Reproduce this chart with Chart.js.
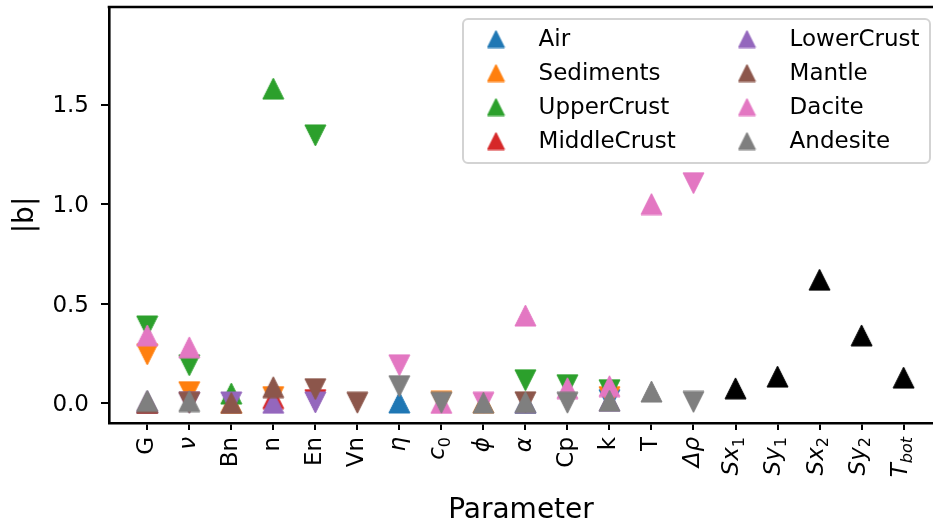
<!DOCTYPE html>
<html>
<head>
<meta charset="utf-8">
<script src="https://cdn.jsdelivr.net/npm/chart.js@4.4.0/dist/chart.umd.min.js"></script>
<style>
  html, body { margin: 0; padding: 0; background: #fff; }
</style>
</head>
<body>
<canvas id="myChart" width="933" height="528"></canvas>
<script>
// parametros del eje x ($...$ = texto matematico en cursiva, _ = subindice)
var parametros = ['G', '$ν$', 'Bn', 'n', 'En', 'Vn', '$η$', '$c_0$', '$ϕ$', '$α$', 'Cp', 'k', 'T', '$Δρ$',
                  '$Sx_1$', '$Sy_1$', '$Sx_2$', '$Sy_2$', '$T_{bot}$'];
var yTicks = [0.0, 0.5, 1.0, 1.5];

// b con signo por material (signo -> triangulo arriba / abajo), null = sin punto
var air         = [0.002, null, null, null, null, null, 0.003, null, null, 0.002, null, -0.015, null, null, null, null, null, null, null];
var sediments   = [-0.245, -0.055, 0.002, -0.03, null, null, null, -0.006, 0.003, null, null, -0.03, null, null, null, null, null, null, null];
var upperCrust  = [-0.385, -0.19, 0.048, 1.58, -1.345, null, null, null, null, -0.115, -0.09, -0.065, null, null, null, null, null, null, null];
var middleCrust = [0.001, null, null, 0.025, -0.015, null, null, null, null, null, null, null, null, null, null, null, null, null, null];
var lowerCrust  = [0.01, -0.002, -0.003, 0.002, -0.003, null, null, null, null, 0.002, null, 0.012, null, null, null, null, null, null, null];
var mantle      = [0.004, -0.002, 0.001, 0.08, -0.07, -0.002, null, null, null, -0.004, null, null, null, null, null, null, null, null, null];
var dacite      = [0.34, 0.28, null, null, null, null, -0.19, 0.001, -0.002, 0.44, 0.075, 0.085, 1.0, -1.105, null, null, null, null, null];
var andesite    = [0.012, 0.01, null, null, null, null, -0.085, -0.002, 0.002, 0.005, -0.002, 0.012, 0.058, -0.006, null, null, null, null, null];
var contorno    = [null, null, null, null, null, null, null, null, null, null, null, null, null, null, 0.074, 0.133, 0.62, 0.34, 0.128];

var materiales = ['Air', 'Sediments', 'UpperCrust', 'MiddleCrust', 'LowerCrust', 'Mantle', 'Dacite', 'Andesite'];
var colores = ['#1f77b4', '#ff7f0e', '#2ca02c', '#d62728', '#9467bd', '#8c564b', '#e377c2', '#7f7f7f'];
var series = [air, sediments, upperCrust, middleCrust, lowerCrust, mantle, dacite, andesite];

Chart.defaults.font.family = '"DejaVu Sans"';
Chart.defaults.color = '#000';

// triangulo tipo matplotlib (ancho = alto), centrado en el punto
function triangulo(color, arriba, size) {
	var c = document.createElement('canvas');
	c.width = size + 2; c.height = size + 2;
	var g = c.getContext('2d');
	var h = size / 2, m = c.width / 2;
	g.beginPath();
	if (arriba) { g.moveTo(m, m - h); g.lineTo(m + h, m + h); g.lineTo(m - h, m + h); }
	else { g.moveTo(m, m + h); g.lineTo(m + h, m - h); g.lineTo(m - h, m - h); }
	g.closePath();
	g.fillStyle = color; g.fill();
	g.lineWidth = 1; g.strokeStyle = color; g.stroke();
	return c;
}

function serie(label, b, color, orden) {
	var puntos = [], estilos = [];
	b.forEach(function(v, i) {
		if (v === null) return;
		puntos.push({x: i, y: Math.abs(v)});
		estilos.push(triangulo(color, v >= 0, 21));
	});
	return {
		label: label, data: puntos, pointStyle: estilos,
		pointRadius: 11, pointHoverRadius: 11,
		backgroundColor: color, borderColor: color,
		showLine: false, order: orden
	};
}

var datasets = series.map(function(s, i) { return serie(materiales[i], s, colores[i], 10 - i); });
datasets.push(serie('', contorno, '#000000', 0));

// etiquetas del eje x giradas, con cursiva y subindices
var etiquetasX = {
	id: 'etiquetasX',
	afterDraw: function(chart) {
		var ctx = chart.ctx, sx = chart.scales.x, y0 = chart.chartArea.bottom + 14;
		parametros.forEach(function(p, i) {
			var mat = p.charAt(0) === '$';
			var partes = p.replace(/\$/g, '').split('_');
			var base = partes[0], sub = partes[1] ? partes[1].replace(/[{}]/g, '') : '';
			var fBase = (mat ? 'italic ' : '') + '23px "DejaVu Sans"';
			var fSub = (/[a-z]/.test(sub) ? 'italic ' : '') + '16px "DejaVu Sans"';
			ctx.save();
			ctx.translate(sx.getPixelForValue(i), y0);
			ctx.rotate(-Math.PI / 2);
			ctx.fillStyle = '#000';
			ctx.textBaseline = 'middle';
			ctx.textAlign = 'left';
			ctx.font = fBase; var wb = ctx.measureText(base).width;
			ctx.font = fSub; var ws = sub ? ctx.measureText(sub).width : 0;
			var total = wb + ws, off = sub ? -3 : 0;
			ctx.font = fBase; ctx.fillText(base, -total, off);
			if (sub) { ctx.font = fSub; ctx.fillText(sub, -ws, off + 7); }
			ctx.restore();
		});
	}
};

// leyenda de 2 columnas dentro del area
var leyenda = {
	id: 'leyenda',
	afterDatasetsDraw: function(chart) {
		var ctx = chart.ctx, a = chart.chartArea;
		var bx = a.left + 354, by = a.top + 12;
		ctx.save();
		ctx.beginPath();
		ctx.roundRect(bx, by, 467, 144, 5);
		ctx.fillStyle = 'rgba(255,255,255,0.8)';
		ctx.fill();
		ctx.lineWidth = 2;
		ctx.strokeStyle = '#d3d3d3';
		ctx.stroke();
		ctx.font = '23px "DejaVu Sans"';
		ctx.fillStyle = '#000';
		ctx.textBaseline = 'middle';
		materiales.forEach(function(m, i) {
			var col = Math.floor(i / 4), fila = i % 4;
			var cy = by + 20 + fila * 34;
			var t = triangulo(colores[i], true, 17);
			ctx.drawImage(t, bx + 33 + col * 251 - t.width / 2, cy - t.height / 2);
			ctx.fillText(m, bx + 75.6 + col * 251, cy + 1);
		});
		ctx.restore();
	}
};

// borde superior
var marco = {
	id: 'marco',
	afterDraw: function(chart) {
		var ctx = chart.ctx, a = chart.chartArea;
		ctx.save();
		ctx.beginPath();
		ctx.moveTo(a.left - 1.3, a.top);
		ctx.lineTo(a.right, a.top);
		ctx.lineWidth = 2.6;
		ctx.strokeStyle = '#000';
		ctx.stroke();
		ctx.restore();
	}
};

var myChart = document.getElementById('myChart').getContext('2d');
var scatter = new Chart(myChart, {
	type: 'scatter',
	data: { datasets: datasets },
	plugins: [leyenda, etiquetasX, marco],
	options: {
		responsive: false,
		animation: false,
		layout: { autoPadding: false, padding: { top: 7, left: 0, right: 0, bottom: 0 } },
		plugins: {
			legend: { display: false },
			tooltip: { enabled: false }
		},
		scales: {
			x: {
				type: 'linear',
				min: -0.91,
				max: 18.7,
				afterBuildTicks: function(s) { s.ticks = parametros.map(function(p, i) { return {value: i}; }); },
				afterFit: function(s) { s.height = 105; s.paddingLeft = 0; s.paddingRight = 0; },
				ticks: { display: false },
				grid: { drawOnChartArea: false, drawTicks: true, tickLength: 7, color: '#000', lineWidth: 2 },
				border: { display: true, color: '#000', width: 2.6 },
				title: { display: true, text: 'Parameter', font: { size: 28 }, color: '#000', padding: { top: 0, bottom: 0 } }
			},
			y: {
				type: 'linear',
				min: -0.1,
				max: 1.99,
				afterBuildTicks: function(s) { s.ticks = yTicks.map(function(v) { return {value: v}; }); },
				afterFit: function(s) { s.width = 109; s.paddingTop = 0; s.paddingBottom = 0; },
				ticks: {
					font: { size: 23 }, color: '#000', padding: 12, autoSkip: false, labelOffset: 2,
					callback: function(v) { return v.toFixed(1); }
				},
				grid: { drawOnChartArea: false, drawTicks: true, tickLength: 8, color: '#000', lineWidth: 2 },
				border: { display: true, color: '#000', width: 2.6 },
				title: { display: true, text: '|b|', font: { size: 28 }, color: '#000', padding: { top: 9, bottom: 0 } }
			}
		}
	}
});
</script>
</body>
</html>
